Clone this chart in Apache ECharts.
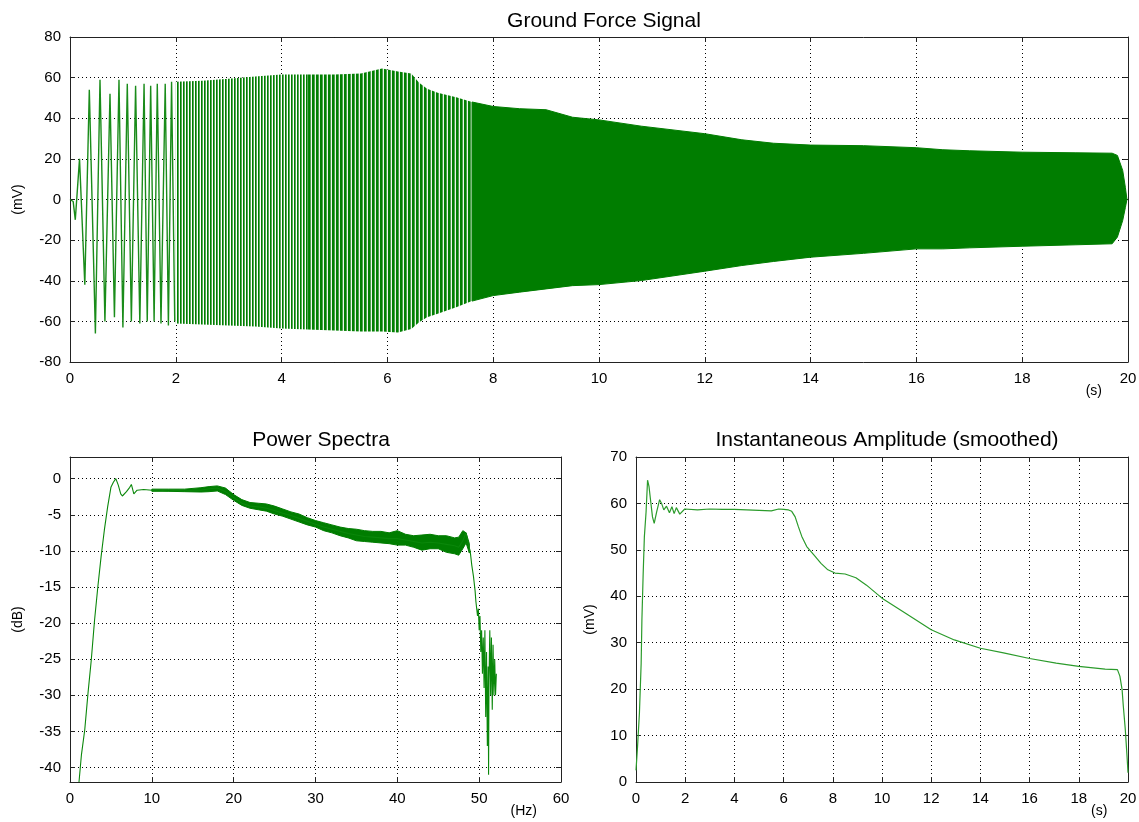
<!DOCTYPE html>
<html>
<head>
<meta charset="utf-8">
<title>Ground Force Signal</title>
<script src="https://cdn.jsdelivr.net/npm/echarts@6/dist/echarts.min.js"></script>
<style>
  html, body { margin: 0; padding: 0; background: #fff; }
  #main { width: 1139px; height: 822px; }
</style>
</head>
<body>
<div id="main"></div>
<script>
/**
 * vibroseis sweep: ground force, power spectra, instantaneous amplitude
 */

// ground force, first cycles read peak by peak (s, mV)
var startTime  = [0, 0.06, 0.1, 0.18, 0.28, 0.365, 0.48, 0.567, 0.66, 0.756, 0.84, 0.926, 1.0, 1.083, 1.16, 1.24, 1.32, 1.4, 1.46, 1.525, 1.59, 1.65, 1.72, 1.8, 1.86, 1.92, 1.98];
var startValue = [0, -1, -10, 20, -42, 54, -66, 59, -60, 52, -58, 59, -63, 57, -60, 56, -61, 57, -60, 56, -60, 57, -61, 57, -62, 58, -60];

// ground force envelope after 2 s (cycles too dense to read one by one)
var envTime  = [2.0, 2.5, 3.0, 3.5, 4.0, 4.5, 5.0, 5.5, 5.9, 6.2, 6.45, 6.6, 6.75, 6.95, 7.3, 7.6, 8.0, 8.5, 9.0, 9.5, 10.0, 10.8, 12.0, 12.7, 13.3, 14.0, 15.0, 16.0, 16.5, 17.0, 18.0, 19.0, 19.7, 19.8, 19.9, 19.95, 19.98];
var envUpper = [58, 58.5, 59.5, 60.5, 61.5, 61.5, 61.5, 62, 64.5, 63, 62, 57.5, 54.5, 52.5, 50.4, 48, 45.8, 44.7, 44.2, 40.5, 39.2, 36.1, 32.4, 29.4, 27.7, 26.8, 26.5, 25.5, 24.5, 24, 23.3, 23, 22.8, 21.7, 14.3, 6, 0];
var envLower = [-61, -61.5, -62, -62.5, -63.5, -64, -64.5, -65, -65, -65.5, -63.7, -60.4, -58, -56.3, -53, -50, -47.3, -45.6, -44, -42.4, -41.9, -39.9, -35.3, -32.5, -30.5, -28.4, -26.5, -24.3, -24.3, -23.8, -23, -22.3, -21.8, -18.5, -10.3, -4, 0];

// power spectra (Hz, dB)
var specFreq = [1.1, 1.4, 1.8, 2.2, 2.6, 3.0, 3.4, 3.8, 4.2, 4.6, 5.0, 5.3, 5.6, 5.9, 6.2, 6.4, 6.9, 7.3, 7.5, 7.8, 8.2, 9.0, 10, 11, 12, 13, 14, 15, 16, 17, 18, 19, 20, 21, 22, 23, 24, 25, 26, 27, 28, 29, 30, 31, 32, 33, 34, 35, 36, 37, 38, 39, 40, 41, 42, 43, 44, 45, 46, 47, 47.5, 48, 48.4, 48.7, 48.9, 49.1, 49.3, 49.5, 49.6, 49.8, 49.9, 50.0, 50.1, 50.2, 50.3, 50.4, 50.5, 50.6, 50.7, 50.8, 50.9, 51.0, 51.1, 51.15, 51.2, 51.3, 51.4, 51.5, 51.6, 51.7, 51.8, 51.9, 52.0, 52.1];
var specDb   = [-42, -38.2, -34.8, -29.7, -25.1, -19.6, -15, -10.8, -7.1, -3.9, -1.2, -0.5, 0, -0.9, -2.1, -2.4, -1.8, -1.2, -0.8, -2.1, -1.6, -1.5, -1.6, -1.6, -1.7, -1.6, -1.7, -1.6, -1.6, -1.4, -1.3, -1.8, -2.6, -3.4, -3.8, -3.9, -4.1, -4.4, -4.8, -5.1, -5.5, -5.9, -6.3, -6.7, -7.0, -7.3, -7.6, -7.8, -8.0, -8.1, -8.2, -8.3, -8.3, -8.5, -8.7, -8.9, -8.8, -8.9, -9.1, -9.3, -9.5, -8.6, -7.5, -9.2, -10, -12, -13.5, -15.5, -17, -19, -18, -21, -19, -24, -21, -27, -22, -29, -21, -33, -24, -37, -26, -41, -28, -21, -30, -22, -32, -23, -30, -25, -30, -27];

// spread of the noisy part of the spectrum (Hz, dB)
var bandFreq = [10, 12, 14, 16, 17, 18, 19, 20, 21, 22, 23, 24, 25, 26, 27, 28, 29, 30, 31, 32, 33, 34, 35, 36, 37, 38, 39, 40, 41, 42, 43, 44, 45, 46, 47, 47.5, 48, 48.4, 48.8];
var bandHigh = [-1.45, -1.45, -1.45, -1.25, -1.1, -1.0, -1.3, -2.2, -2.9, -3.3, -3.4, -3.5, -3.8, -4.2, -4.6, -4.9, -5.4, -5.8, -6.1, -6.4, -6.7, -6.9, -7.0, -7.2, -7.3, -7.3, -7.5, -7.2, -7.7, -7.9, -7.8, -7.7, -7.9, -7.9, -8.2, -8.1, -7.2, -7.5, -9.0];
var bandLow  = [-1.75, -1.75, -1.8, -1.85, -1.8, -1.7, -2.2, -3.0, -3.7, -4.1, -4.3, -4.5, -4.9, -5.2, -5.6, -6.0, -6.4, -6.7, -7.2, -7.5, -7.9, -8.2, -8.6, -8.7, -8.8, -8.9, -9.0, -9.2, -9.2, -9.5, -9.9, -9.7, -9.7, -10.2, -10.4, -10.6, -9.7, -8.9, -10.3];

// instantaneous amplitude, smoothed (s, mV)
var ampTime  = [0, 0.03, 0.06, 0.14, 0.21, 0.24, 0.29, 0.34, 0.41, 0.47, 0.53, 0.6, 0.67, 0.74, 0.84, 0.96, 1.04, 1.13, 1.24, 1.36, 1.46, 1.55, 1.64, 1.78, 1.98, 2.5, 3.0, 3.5, 4.0, 4.5, 5.0, 5.5, 5.8, 6.0, 6.2, 6.33, 6.47, 6.6, 6.74, 6.94, 7.23, 7.52, 7.8, 8.09, 8.5, 8.94, 9.37, 10, 10.94, 12, 12.94, 14, 14.94, 16, 17.08, 18, 19.07, 19.57, 19.67, 19.76, 19.81, 19.89, 19.96, 20];
var ampValue = [2.5, 2.7, 7.4, 14.9, 25.6, 34.9, 44.6, 52.8, 58.2, 65, 63.6, 60.3, 57.1, 55.7, 58.2, 60.8, 60, 58.6, 59.4, 58, 59.3, 57.8, 59.1, 57.7, 58.8, 58.6, 58.8, 58.7, 58.7, 58.6, 58.5, 58.4, 58.8, 58.7, 58.6, 58.3, 57.1, 55, 52.9, 50.7, 48.9, 47.1, 45.7, 45, 44.8, 44, 42.4, 39.6, 36.4, 32.8, 30.6, 28.8, 27.8, 26.6, 25.6, 24.9, 24.3, 24.2, 22.8, 19.9, 16.3, 11.3, 5.6, 2];

// tick labels
var dbTicks = [-40, -35, -30, -25, -20, -15, -10, -5, 0];

var FONT = '"Liberation Sans", Arial, Helvetica, sans-serif';

function zip(a, b) {
    return a.map(function (v, i) { return [v, b[i]]; });
}

// vertical stripes to mimic the packed sweep cycles
function stripes(cols) {
    var c = document.createElement('canvas');
    c.width = cols.length;
    c.height = 4;
    var g = c.getContext('2d');
    cols.forEach(function (col, i) {
        g.fillStyle = col;
        g.fillRect(i, 0, 1, 4);
    });
    return { image: c, repeat: 'repeat' };
}

// filled band between two curves, placed through the axes
function bandSeries(xi, yi, xs, hi, lo, from, to, fill, stroke) {
    return {
        type: 'custom',
        xAxisIndex: xi,
        yAxisIndex: yi,
        silent: true,
        clip: true,
        z: 3,
        data: [[xs[from], hi[from]]],
        renderItem: function (params, api) {
            var pts = [];
            for (var i = from; i <= to; i++) pts.push(api.coord([xs[i], hi[i]]));
            for (var j = to; j >= from; j--) pts.push(api.coord([xs[j], lo[j]]));
            return {
                type: 'polygon',
                shape: { points: pts },
                style: { fill: fill, stroke: stroke || null, lineWidth: stroke ? 1 : 0 }
            };
        }
    };
}

function mainX(gi, min, max, interval, name, gap) {
    return {
        type: 'value', gridIndex: gi, position: 'bottom',
        min: min, max: max, interval: interval,
        name: name, nameLocation: 'end', nameGap: gap,
        nameTextStyle: { fontFamily: FONT, fontSize: 14, color: '#000', align: 'right', verticalAlign: 'top', padding: [22, 0, 0, 0] },
        axisLine: { show: true, onZero: false, lineStyle: { color: '#222', width: 1 } },
        axisTick: { show: true, inside: true, length: 5, lineStyle: { color: '#222' } },
        axisLabel: { color: '#000', fontFamily: FONT, fontSize: 15, margin: 9 },
        splitLine: { show: true, lineStyle: { color: '#000', type: [1, 3], width: 1 } }
    };
}

function mirrorX(gi, min, max, interval) {
    return {
        type: 'value', gridIndex: gi, position: 'top',
        min: min, max: max, interval: interval,
        axisLine: { show: true, onZero: false, lineStyle: { color: '#222', width: 1 } },
        axisTick: { show: true, inside: true, length: 5, lineStyle: { color: '#222' } },
        axisLabel: { show: false },
        splitLine: { show: false }
    };
}

function mainY(gi, extra, name, gap) {
    var ax = {
        type: 'value', gridIndex: gi, position: 'left',
        name: name, nameLocation: 'middle', nameGap: gap,
        nameTextStyle: { fontFamily: FONT, fontSize: 14, color: '#000' },
        axisLine: { show: true, onZero: false, lineStyle: { color: '#222', width: 1 } },
        axisTick: { show: true, inside: true, length: 5, lineStyle: { color: '#222' } },
        axisLabel: { color: '#000', fontFamily: FONT, fontSize: 15, margin: 9 },
        splitLine: { show: true, lineStyle: { color: '#000', type: [1, 3], width: 1 } }
    };
    return Object.assign(ax, extra);
}

function mirrorY(gi, extra) {
    var ax = {
        type: 'value', gridIndex: gi, position: 'right',
        axisLine: { show: true, onZero: false, lineStyle: { color: '#222', width: 1 } },
        axisTick: { show: true, inside: true, length: 5, lineStyle: { color: '#222' } },
        axisLabel: { show: false },
        splitLine: { show: false }
    };
    return Object.assign(ax, extra);
}

var dbExtra = {
    min: -42, max: 3,
    axisTick: { show: true, inside: true, length: 5, lineStyle: { color: '#222' }, customValues: dbTicks },
    axisLabel: { color: '#000', fontFamily: FONT, fontSize: 15, margin: 9, customValues: dbTicks }
};

var myChart = echarts.init(document.getElementById('main'), null, { renderer: 'canvas' });

var lastEnv = envTime.length - 1;
var cutA = envTime.indexOf(4.5);
var cutB = envTime.indexOf(7.6);

var option = {
    backgroundColor: '#fff',
    animation: false,
    title: [
        { text: 'Ground Force Signal', left: 599, top: 6, textAlign: 'center',
          textStyle: { fontFamily: FONT, fontSize: 21, fontWeight: 'normal', color: '#000' } },
        { text: 'Power Spectra', left: 316, top: 425, textAlign: 'center',
          textStyle: { fontFamily: FONT, fontSize: 21, fontWeight: 'normal', color: '#000' } },
        { text: 'Instantaneous Amplitude (smoothed)', left: 882, top: 425, textAlign: 'center',
          textStyle: { fontFamily: FONT, fontSize: 21, fontWeight: 'normal', color: '#000' } }
    ],
    grid: [
        { left: 70, top: 37, width: 1058, height: 325, outerBoundsMode: 'none' },
        { left: 70, top: 457, width: 491, height: 325, outerBoundsMode: 'none' },
        { left: 636, top: 457, width: 492, height: 325, outerBoundsMode: 'none' }
    ],
    xAxis: [
        mainX(0, 0, 20, 2, '(s)', -26),
        mirrorX(0, 0, 20, 2),
        mainX(1, 0, 60, 10, '(Hz)', -24),
        mirrorX(1, 0, 60, 10),
        mainX(2, 0, 20, 2, '(s)', -26),
        mirrorX(2, 0, 20, 2)
    ],
    yAxis: [
        mainY(0, { min: -80, max: 80, interval: 20 }, '(mV)', 45),
        mirrorY(0, { min: -80, max: 80, interval: 20 }),
        mainY(1, dbExtra, '(dB)', 45),
        mirrorY(1, { min: -42, max: 3, axisTick: { show: true, inside: true, length: 5, lineStyle: { color: '#222' }, customValues: dbTicks } }),
        mainY(2, { min: 0, max: 70, interval: 10 }, '(mV)', 39),
        mirrorY(2, { min: 0, max: 70, interval: 10 })
    ],
    series: [
        {
            name: 'ground force start', type: 'line', xAxisIndex: 0, yAxisIndex: 0,
            data: zip(startTime, startValue), showSymbol: false, silent: true, z: 3,
            lineStyle: { color: '#1a8c1a', width: 1.4 }
        },
        bandSeries(0, 0, envTime, envUpper, envLower, 0, cutA,
            stripes(['#008000', '#5aa95a', '#ffffff'])),
        bandSeries(0, 0, envTime, envUpper, envLower, cutA, cutB,
            stripes(['#008000', '#008000', '#4da24d', '#eaf4ea'])),
        bandSeries(0, 0, envTime, envUpper, envLower, cutB, lastEnv, '#007d00', '#007d00'),
        bandSeries(2, 2, bandFreq, bandHigh, bandLow, 0, bandFreq.length - 1, '#007d00', '#007d00'),
        {
            name: 'power spectra', type: 'line', xAxisIndex: 2, yAxisIndex: 2,
            data: zip(specFreq, specDb), showSymbol: false, silent: true, z: 4,
            lineStyle: { color: '#0a870a', width: 1.1 }
        },
        {
            name: 'instantaneous amplitude', type: 'line', xAxisIndex: 4, yAxisIndex: 4,
            data: zip(ampTime, ampValue), showSymbol: false, silent: true, z: 3,
            lineStyle: { color: '#2b9b2b', width: 1.2 }
        }
    ]
};

myChart.setOption(option);
window.onresize = myChart.resize;
</script>
</body>
</html>
